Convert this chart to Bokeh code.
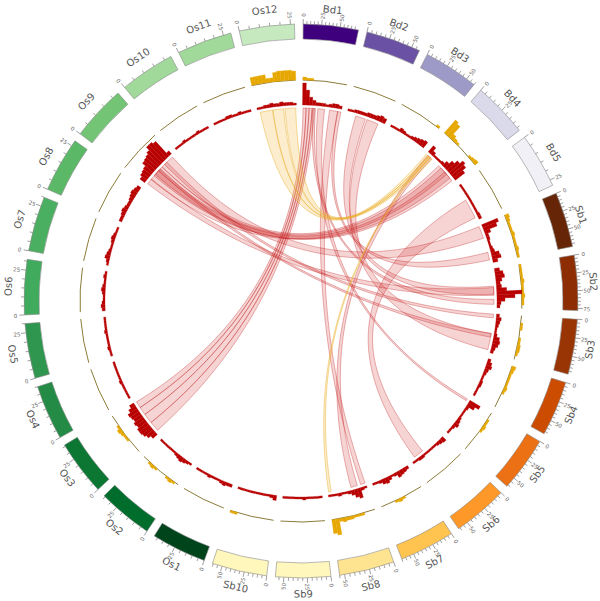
import math
from bokeh.plotting import figure
from bokeh.models import Range1d
from bokeh.core.properties import value
from bokeh.embed import file_html
from bokeh.resources import INLINE

# ---------------- data ----------------
chrom_names = ["Bd1", "Bd2", "Bd3", "Bd4", "Bd5",
               "Sb1", "Sb2", "Sb3", "Sb4", "Sb5", "Sb6", "Sb7", "Sb8", "Sb9", "Sb10",
               "Os1", "Os2", "Os3", "Os4", "Os5", "Os6", "Os7", "Os8", "Os9", "Os10", "Os11", "Os12"]
chrom_sizes_mb = [74.8, 59, 60, 48, 28,
                  74, 78, 74, 68, 62, 62, 65, 55, 59, 61,
                  43, 36, 36, 35, 30, 31, 30, 28, 23, 23, 29, 27]
chrom_colors = ["#3f007d", "#6a51a3", "#9e9ac8", "#dadaeb", "#f2f0f7",
                "#662506", "#8c2d04", "#993404", "#cc4c02", "#ec7014", "#fe9929", "#fec44f", "#fee391", "#fff7bc", "#fff7bc",
                "#00441b", "#006d2c", "#0b7733", "#238b45", "#2f9650", "#41ab5d", "#4aaf60", "#5bb867", "#74c476", "#a1d99b", "#a1d99b", "#c7e9c0"]

# inner (red) density track, 12 bins per chromosome
red_density = {
    "Bd1": [22, 15, 8, 5, 3, 3, 3, 2, 3, 4, 4, 3],
    "Bd2": [2, 2, 3, 3, 3, 3, 4, 4, 4, 5, 6, 5],
    "Bd3": [2, 2, 2, 4, 3, 2, 2, 3, 4, 5, 6, 7],
    "Bd4": [8, 4, 2, 2, 2, 3, 6, 10, 14, 18, 16, 12],
    "Bd5": [2, 2, 2, 2, 2, 2, 2, 2, 2, 2, 3, 3],
    "Sb1": [17, 14, 6, 3, 3, 2, 2, 3, 4, 8, 9, 5],
    "Sb2": [5, 8, 9, 6, 4, 5, 10, 25, 18, 8, 4, 3],
    "Sb3": [3, 5, 4, 3, 2, 2, 3, 6, 7, 6, 4, 3],
    "Sb4": [3, 5, 6, 4, 3, 2, 2, 3, 3, 2, 2, 2],
    "Sb5": [12, 8, 3, 2, 2, 2, 3, 4, 5, 3, 2, 2],
    "Sb6": [5, 4, 3, 2, 2, 2, 2, 2, 3, 3, 2, 2],
    "Sb7": [3, 4, 5, 6, 3, 2, 4, 6, 5, 3, 2, 2],
    "Sb8": [2, 3, 10, 8, 5, 3, 2, 2, 3, 2, 2, 2],
    "Sb9": [2, 2, 2, 2, 2, 3, 2, 2, 2, 2, 2, 2],
    "Sb10": [5, 3, 2, 2, 2, 2, 2, 2, 2, 2, 2, 2],
    "Os1": [3, 3, 4, 3, 2, 2, 2, 3, 2, 2, 2, 2],
    "Os2": [2, 3, 4, 5, 4, 3, 2, 2, 2, 2, 2, 2],
    "Os3": [6, 9, 11, 12, 12, 10, 11, 9, 10, 11, 8, 5],
    "Os4": [2, 2, 2, 2, 2, 3, 2, 2, 2, 2, 2, 2],
    "Os5": [2, 2, 3, 2, 2, 2, 2, 3, 2, 2, 2, 2],
    "Os6": [3, 4, 3, 2, 2, 3, 4, 3, 2, 2, 3, 2],
    "Os7": [2, 3, 5, 4, 3, 2, 2, 3, 4, 3, 2, 2],
    "Os8": [3, 3, 4, 5, 4, 3, 3, 4, 5, 6, 5, 4],
    "Os9": [6, 8, 9, 10, 14, 15, 16, 18, 22, 22, 20, 4],
    "Os10": [2, 2, 2, 3, 2, 2, 2, 2, 3, 2, 2, 2],
    "Os11": [2, 2, 2, 2, 3, 3, 2, 2, 3, 2, 2, 2],
    "Os12": [2, 2, 3, 3, 4, 3, 3, 4, 3, 3, 3, 2],
}

# outer (yellow) density track, 12 bins per chromosome
yellow_density = {
    "Bd1": [3, 2, 2, 1, 1, 1, 1, 1, 1, 1, 1, 1],
    "Bd2": [1, 1, 1, 1, 1, 1, 1, 1, 1, 1, 1, 1],
    "Bd3": [1, 1, 1, 1, 1, 1, 1, 1, 1, 1, 1, 2],
    "Bd4": [17, 15, 5, 3, 2, 1, 1, 1, 1, 2, 3, 4],
    "Bd5": [1, 1, 1, 1, 1, 1, 1, 1, 1, 1, 1, 1],
    "Sb1": [4, 3, 2, 2, 2, 3, 2, 2, 2, 3, 2, 2],
    "Sb2": [2, 2, 2, 2, 3, 2, 2, 2, 3, 2, 2, 1],
    "Sb3": [1, 1, 2, 2, 1, 1, 2, 2, 3, 3, 2, 1],
    "Sb4": [4, 3, 2, 2, 2, 2, 3, 2, 1, 1, 1, 1],
    "Sb5": [1, 1, 2, 2, 3, 2, 1, 1, 1, 1, 1, 1],
    "Sb6": [1, 1, 1, 1, 1, 1, 1, 1, 1, 1, 1, 1],
    "Sb7": [1, 1, 1, 1, 1, 2, 3, 2, 1, 1, 1, 1],
    "Sb8": [1, 1, 1, 2, 2, 2, 3, 3, 4, 3, 16, 14],
    "Sb9": [1, 1, 1, 1, 1, 1, 1, 1, 1, 1, 1, 1],
    "Sb10": [1, 1, 1, 1, 1, 1, 1, 1, 1, 1, 2, 2],
    "Os1": [1, 1, 1, 1, 1, 1, 1, 1, 1, 1, 1, 1],
    "Os2": [1, 2, 3, 2, 1, 1, 1, 2, 3, 2, 1, 1],
    "Os3": [1, 1, 1, 1, 2, 2, 3, 4, 2, 1, 1, 1],
    "Os4": [1, 1, 1, 1, 1, 1, 1, 1, 1, 1, 1, 1],
    "Os5": [1, 1, 1, 1, 1, 1, 1, 1, 1, 1, 1, 1],
    "Os6": [1, 1, 1, 1, 1, 1, 1, 1, 1, 1, 1, 1],
    "Os7": [1, 1, 1, 1, 1, 1, 1, 1, 1, 1, 1, 1],
    "Os8": [1, 1, 1, 1, 1, 1, 1, 1, 1, 1, 1, 1],
    "Os9": [1, 1, 1, 1, 1, 1, 1, 1, 1, 1, 1, 1],
    "Os10": [1, 1, 1, 1, 1, 1, 1, 1, 1, 1, 1, 1],
    "Os11": [1, 1, 1, 1, 1, 1, 1, 1, 1, 1, 1, 1],
    "Os12": [8, 8, 8, 8, 4, 4, 9, 10, 10, 10, 10, 9],
}

# synteny links (chromosome, start Mb, end Mb) pairs
link_chr_a = ["Bd1", "Bd1", "Bd1", "Bd1", "Os9", "Os9", "Os9", "Os9", "Os9", "Os9", "Os9",
              "Bd1", "Bd1", "Bd2", "Bd2", "Bd5", "Bd4", "Bd1", "Bd1",
              "Os12", "Os12", "Os12", "Sb8"]
link_a_start = [1.0, 6.8, 12.7, 18.5, 3.7, 6.7, 7.7, 13.7, 0.6, 10.7, 15.7,
                52.4, 68.0, 13.9, 31.8, 11.5, 2.3, 29.6, 19.8,
                1.6, 10.5, 19.0, 50.3]
link_a_end = [6.8, 12.7, 18.5, 23.1, 13.7, 11.7, 10.7, 22.2, 4.2, 12.3, 17.7,
              68.6, 74.5, 29.3, 49.7, 26.0, 8.5, 42.6, 25.0,
              10.3, 18.0, 26.5, 54.1]
link_chr_b = ["Os3", "Os3", "Os3", "Os3", "Bd4", "Bd4", "Bd4", "Sb1", "Sb2", "Sb3", "Sb3",
              "Sb8", "Sb1", "Sb2", "Sb3", "Sb6", "Sb8", "Sb5", "Sb2",
              "Bd4", "Bd4", "Bd4", "Bd4"]
link_b_start = [29.3, 21.5, 12.1, 2.7, 21.0, 25.0, 31.6, 1.2, 37.5, 38.0, 0.8,
                0.7, 53.1, 34.8, 38.0, 38.8, 12.2, 0.2, 61.2,
                6.5, 3.5, 0.2, 4.0]
link_b_end = [35.5, 29.3, 21.5, 12.1, 35.6, 41.7, 45.8, 24.9, 53.1, 45.0, 7.8,
              7.4, 67.9, 51.1, 69.4, 54.9, 21.7, 3.5, 71.3,
              9.5, 6.5, 3.5, 6.0]
link_kind = ["red"] * 19 + ["yellow"] * 4

# ---------------- layout ----------------
N = len(chrom_names)
STEP = 360.0 / N
GAP = 1.8
SPAN = STEP - GAP
OFFSET = 0.45
starts = [OFFSET + i * STEP for i in range(N)]
idx = {n: i for i, n in enumerate(chrom_names)}

R_IDEO_IN, R_IDEO_OUT = 262.0, 277.0
R_YEL = 221.0
R_RED = 196.0
R_LINK = 193.0


def theta(chrom, mb):
    i = idx[chrom]
    return starts[i] + mb / chrom_sizes_mb[i] * SPAN


def pt(th, r):
    a = math.radians(th)
    return r * math.sin(a), r * math.cos(a)


def arc_pts(t1, t2, r, n=24):
    xs, ys = [], []
    for k in range(n + 1):
        x, y = pt(t1 + (t2 - t1) * k / n, r)
        xs.append(x)
        ys.append(y)
    return xs, ys


def bez(p0, p2, n=50):
    xs, ys = [], []
    for k in range(n + 1):
        t = k / n
        xs.append((1 - t) ** 2 * p0[0] + t * t * p2[0])
        ys.append((1 - t) ** 2 * p0[1] + t * t * p2[1])
    return xs, ys


p = figure(width=600, height=601, output_backend="svg", toolbar_location=None,
           x_range=Range1d(-300.5, 299.5), y_range=Range1d(-300.5, 300.5),
           min_border=0)
p.axis.visible = False
p.grid.visible = False
p.outline_line_color = None
p.background_fill_color = "white"

# ---------------- links ----------------
for kind, fc, lc, fa, la in [("red", "#d42a2a", "#c01818", 0.2, 0.55),
                             ("yellow", "#f2c04a", "#e8a818", 0.28, 0.7)]:
    lxs, lys = [], []
    for k in range(len(link_kind)):
        if link_kind[k] != kind:
            continue
        a1 = theta(link_chr_a[k], link_a_start[k])
        a2 = theta(link_chr_a[k], link_a_end[k])
        b1 = theta(link_chr_b[k], link_b_start[k])
        b2 = theta(link_chr_b[k], link_b_end[k])
        xs, ys = arc_pts(a1, a2, R_LINK, 10)
        bx, by = bez(pt(a2, R_LINK), pt(b1, R_LINK))
        xs += bx
        ys += by
        cx, cy = arc_pts(b1, b2, R_LINK, 10)
        xs += cx
        ys += cy
        bx, by = bez(pt(b2, R_LINK), pt(a1, R_LINK))
        xs += bx
        ys += by
        lxs.append(xs)
        lys.append(ys)
    p.patches(lxs, lys, fill_color=fc, fill_alpha=fa, line_color=lc, line_alpha=la, line_width=0.6)


# ---------------- histogram tracks ----------------
def hist_track(data, r0, color, min_h):
    sa, ea, outer = [], [], []
    for name in chrom_names:
        vals = data[name]
        i = idx[name]
        w = SPAN / len(vals)
        for j, v in enumerate(vals):
            if v < min_h:
                continue
            t1 = starts[i] + j * w
            t2 = t1 + w
            sa.append(math.radians(90 - t2))
            ea.append(math.radians(90 - t1))
            outer.append(r0 + v)
    p.annular_wedge(x=0, y=0, inner_radius=r0, outer_radius=outer, start_angle=sa, end_angle=ea,
                    fill_color=color, line_color=color, line_width=0.3)


p.arc(x=[0] * N, y=[0] * N, radius=R_YEL,
      start_angle=[math.radians(90 - (s + SPAN)) for s in starts],
      end_angle=[math.radians(90 - s) for s in starts],
      line_color="#8c7c3a", line_width=1.0)
hist_track(yellow_density, R_YEL, "#e6a700", 1.5)
hist_track(red_density, R_RED, "#b80000", 1)

# ---------------- ideogram ----------------
p.annular_wedge(x=0, y=0, inner_radius=R_IDEO_IN, outer_radius=R_IDEO_OUT,
                start_angle=[math.radians(90 - (s + SPAN)) for s in starts],
                end_angle=[math.radians(90 - s) for s in starts],
                fill_color=chrom_colors, line_color="#8a8a8a", line_width=0.6)

tx0, ty0, tx1, ty1 = [], [], [], []
lx, ly, ltxt, lang = [], [], [], []
for name in chrom_names:
    size = chrom_sizes_mb[idx[name]]
    mb = 0
    while mb <= size:
        th = theta(name, mb)
        major = (mb % 25 == 0)
        x0, y0 = pt(th, R_IDEO_OUT)
        x1, y1 = pt(th, R_IDEO_OUT + (5.0 if major else 3.0))
        tx0.append(x0); ty0.append(y0); tx1.append(x1); ty1.append(y1)
        if major:
            x, y = pt(th, R_IDEO_OUT + 9.0)
            lx.append(x); ly.append(y); ltxt.append(str(mb))
            ang = 90 - th if th <= 180 else 270 - th
            lang.append(math.radians(ang))
        mb += 5
p.segment(tx0, ty0, tx1, ty1, line_color="#777777", line_width=0.7)
p.text(lx, ly, text=ltxt, angle=lang, text_font_size="5.5px", text_align="center",
       text_baseline="middle", text_color="#666666", text_font=value("DejaVu Sans"))

cx, cy, cang = [], [], []
for i, name in enumerate(chrom_names):
    th = starts[i] + SPAN / 2
    x, y = pt(th, 293.0)
    cx.append(x); cy.append(y)
    a = -th if (th < 90 or th > 270) else 180 - th
    cang.append(math.radians(a))
p.text(cx, cy, text=chrom_names, angle=cang, text_font_size="10px", text_align="center",
       text_baseline="middle", text_color="#555555", text_font=value("DejaVu Sans"))

open("out.html", "w").write(file_html(p, INLINE))
